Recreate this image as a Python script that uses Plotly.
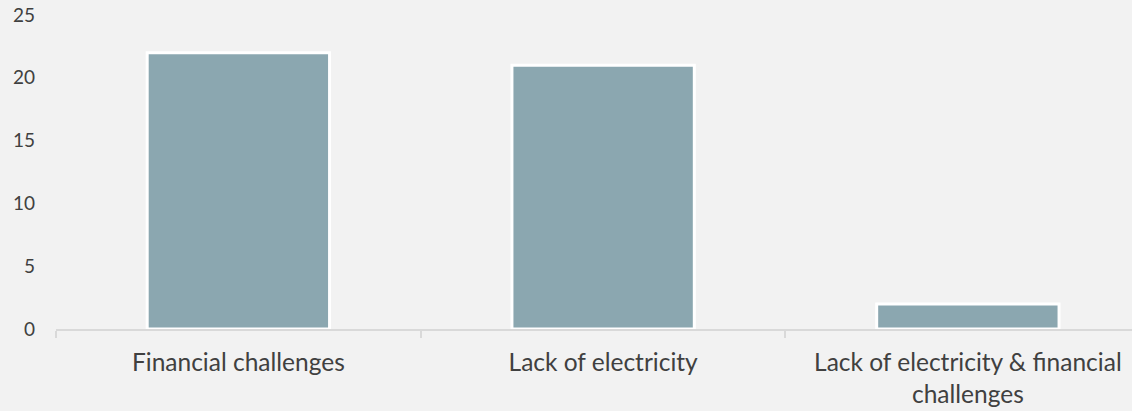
import plotly.graph_objects as go

categories = ["Financial challenges", "Lack of electricity", "Lack of electricity & financial<br>challenges"]
values = [22, 21, 2]
y_ticks = [0, 5, 10, 15, 20, 25]

fig = go.Figure(go.Bar(
    x=categories,
    y=values,
    width=0.5,
    marker=dict(color="#8BA7B0", line=dict(color="#FFFFFF", width=3)),
))

fig.update_layout(
    width=1132, height=411,
    margin=dict(l=56, r=0, t=15, b=82),
    paper_bgcolor="#F2F2F2", plot_bgcolor="#F2F2F2",
    font=dict(family="Lato", size=20, color="#404040"),
    showlegend=False,
)
fig.update_xaxes(
    range=[-0.5, 2.45],
    tickson="boundaries",
    ticks="outside", ticklen=7, tickcolor="#D9D9D9", tickwidth=2,
    showline=True, linecolor="#D9D9D9", linewidth=2,
    showgrid=False,
    ticklabelstandoff=11,
    tickfont=dict(size=24.5),
)
fig.update_yaxes(
    range=[0, 25], tickvals=y_ticks,
    showgrid=False, zeroline=False, showline=False,
    ticklabelstandoff=20,
    tickfont=dict(size=19),
)

fig.write_html("out.html")
